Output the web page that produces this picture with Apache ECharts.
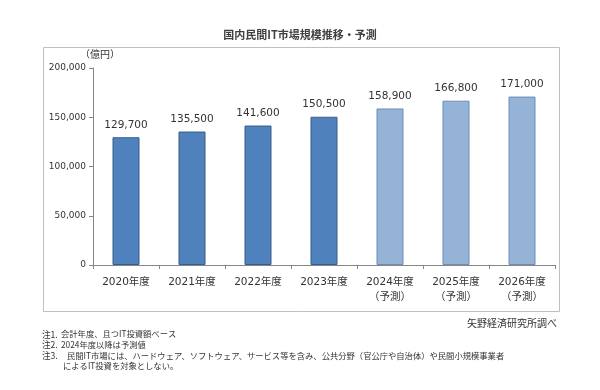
<!DOCTYPE html>
<html><head><meta charset="utf-8">
<script src="https://cdn.jsdelivr.net/npm/echarts@6/dist/echarts.min.js"></script>
<style>html,body{margin:0;padding:0;background:#fff}#c{width:600px;height:390px}</style>
</head><body><div id="c"></div>
<script>
const categories = ['2020年度','2021年度','2022年度','2023年度','2024年度\n（予測）','2025年度\n（予測）','2026年度\n（予測）'];
const values = [129700, 135500, 141600, 150500, 158900, 166800, 171000];
const isForecast = [false, false, false, false, true, true, true];
const yTicks = { min: 0, max: 200000, interval: 50000 };
const titleText = '国内民間IT市場規模推移・予測';
const unitText = '（億円）';
const sourceText = '矢野経済研究所調べ';
const noteLabels = ['注1.', '注2.', '注3.', ''];
const noteTexts = [
  '会計年度、且つIT投資額ベース',
  '2024年度以降は予測値',
  '民間IT市場には、ハードウェア、ソフトウェア、サービス等を含み、公共分野（官公庁や自治体）や民間小規模事業者',
  'によるIT投資を対象としない。'
];

const JP = '"Noto Sans CJK JP", sans-serif';
const NUM = '"DejaVu Sans", "Noto Sans CJK JP", sans-serif';
const fmt = v => String(v).replace(/\B(?=(\d{3})+(?!\d))/g, ',');

const chart = echarts.init(document.getElementById('c'), null, {renderer: 'canvas'});
const noteGraphics = [];
const noteX = [61, 61, 67, 63];
noteTexts.forEach((t, i) => {
  const y = 330 + i * 10.7;
  if (noteLabels[i]) noteGraphics.push({ type: 'text', left: 42, top: y, style: { text: noteLabels[i], font: '8.6px ' + JP, fill: '#333' } });
  noteGraphics.push({ type: 'text', left: noteX[i], top: y, style: { text: t, font: '8.3px ' + JP, fill: '#333' } });
});
chart.setOption({
  animation: false,
  backgroundColor: '#fff',
  title: {
    text: titleText, left: 'center', top: 24,
    textStyle: { fontFamily: JP, fontSize: 11, fontWeight: 'bold', color: '#404040' }
  },
  grid: { left: 93, right: 45, top: 68, bottom: 125, containLabel: false },
  xAxis: {
    type: 'category', data: categories, boundaryGap: true,
    axisLine: { lineStyle: { color: '#868686' } },
    axisTick: { show: true, length: 4, lineStyle: { color: '#868686' } },
    axisLabel: { fontFamily: NUM, fontSize: 10.5, color: '#333', margin: 10, lineHeight: 15, interval: 0 }
  },
  yAxis: {
    type: 'value', min: yTicks.min, max: yTicks.max, interval: yTicks.interval,
    axisLine: { show: true, lineStyle: { color: '#868686' } },
    axisTick: { show: true, length: 4, lineStyle: { color: '#868686' } },
    splitLine: { show: false },
    axisLabel: { fontFamily: NUM, fontSize: 9, color: '#333', margin: 7, formatter: v => fmt(v) }
  },
  series: [{
    type: 'bar', barWidth: 27,
    data: values.map((v, i) => ({
      value: v,
      itemStyle: isForecast[i]
        ? { color: '#95B3D7', borderColor: '#6F8DB5', borderWidth: 1 }
        : { color: '#4F81BD', borderColor: '#385D8A', borderWidth: 1 }
    })),
    label: {
      show: true, position: 'top', distance: 7,
      fontFamily: NUM, fontSize: 10.5, color: '#333',
      formatter: p => fmt(p.value)
    }
  }],
  graphic: [
    { type: 'rect', shape: { x: 43.5, y: 47.5, width: 516, height: 264 }, style: { fill: null, stroke: '#BFBFBF', lineWidth: 1 }, silent: true, z: -1 },
    { type: 'text', left: 80, top: 49, style: { text: unitText, font: '10px ' + JP, fill: '#333' } },
    { type: 'text', right: 43, top: 318, style: { text: sourceText, font: '10px ' + JP, fill: '#333' } }
  ].concat(noteGraphics)
});
</script></body></html>
